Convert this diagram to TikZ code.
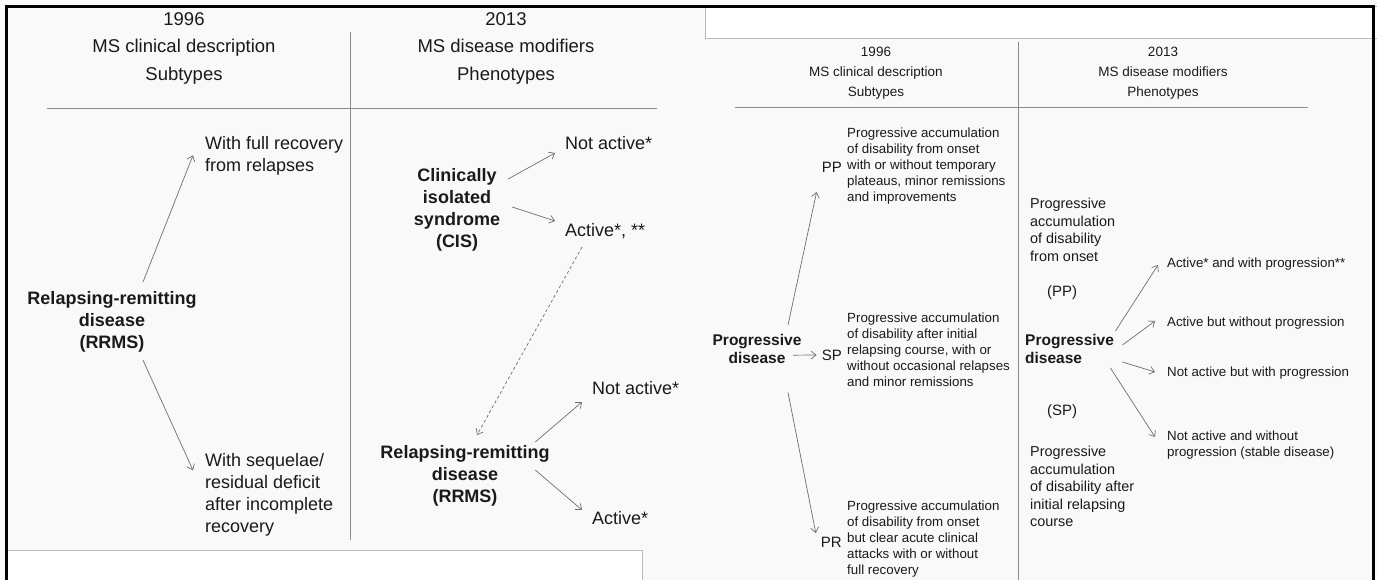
\documentclass[tikz,border=0pt]{standalone}
\usepackage{fontspec}
\setmainfont{Liberation Sans}
\usetikzlibrary{arrows.meta}
\definecolor{ink}{HTML}{1A1A1A}
\definecolor{rulec}{HTML}{8C8C8C}
\definecolor{arrc}{HTML}{6E6E6E}
\definecolor{paper}{HTML}{F9F9F9}
\definecolor{boxc}{HTML}{B8B8B8}
\begin{document}
\begin{tikzpicture}[x=1pt,y=-1pt,
  txt/.style={inner sep=0pt,text=ink},
  hdrL/.style={txt,align=center,anchor=north,font=\fontsize{18.5}{27.5}\selectfont},
  bodyL/.style={txt,align=left,anchor=north west,font=\fontsize{18}{21.7}\selectfont},
  boldL/.style={txt,align=center,anchor=north,font=\bfseries\fontsize{18}{22}\selectfont},
  hdrR/.style={txt,align=center,anchor=north,font=\fontsize{13.5}{20}\selectfont},
  smallR/.style={txt,align=left,anchor=north west,font=\fontsize{13.3}{16}\selectfont},
  boldR/.style={txt,align=center,font=\bfseries\fontsize{15.5}{18}\selectfont},
  colR/.style={txt,align=left,anchor=north west,font=\fontsize{14.4}{17.4}\selectfont},
  tagR/.style={txt,font=\fontsize{15}{18}\selectfont},
  rulel/.style={draw=rulec,line width=0.8pt},
  arr/.style={draw=arrc,line width=0.7pt,-{Straight Barb[length=5pt,width=8pt]}},
  dasharr/.style={arr,dash pattern=on 3pt off 2.5pt},
  whitebox/.style={fill=white,draw=boxc,line width=0.8pt},
  frameline/.style={draw=black,line width=3pt}
]
\useasboundingbox (0,0) rectangle (1377,580);
\fill[paper] (0,0) rectangle (1377,580);

% white panels of the two slides
\draw[whitebox] (6,550) rectangle (642,590);
\draw[whitebox] (705,6) rectangle (1380,38);

% ---------------- left slide: relapsing forms ----------------
\node[hdrL] (hL96) at (184,12) {1996\\MS clinical description\\Subtypes};
\node[hdrL] (hL13) at (506,12) {2013\\MS disease modifiers\\Phenotypes};
\draw[rulel] (47,108) -- (657,108);
\draw[rulel] (350,32) -- (350,540);

\node[boldL] (rrA) at (112,291) {Relapsing-remitting\\disease\\(RRMS)};
\node[bodyL] (full) at (205,136.3) {With full recovery\\from relapses};
\node[bodyL,font=\fontsize{18}{22}\selectfont] (seq) at (205,453.3) {With sequelae/\\residual deficit\\after incomplete\\recovery};
\draw[arr] ([xshift=31pt,yshift=9pt]rrA.north) -- ([xshift=-12pt,yshift=-19pt]full.north west);
\draw[arr] ([xshift=31pt,yshift=-8pt]rrA.south) -- ([xshift=-12pt,yshift=-17pt]seq.north west);

\node[boldL] (cis) at (457,168.3) {Clinically\\isolated\\syndrome\\(CIS)};
\node[bodyL] (naA) at (565,136.3) {Not active*};
\node[bodyL] (actA) at (565,223.3) {Active*, **};
\draw[arr] ([xshift=8pt,yshift=-10.7pt]cis.north east) -- ([xshift=-10pt,yshift=-16.7pt]naA.north west);
\draw[arr] ([xshift=12pt,yshift=-38.7pt]cis.north east) -- ([xshift=-10pt,yshift=2.3pt]actA.north west);

\node[boldL] (rrB) at (465,445.3) {Relapsing-remitting\\disease\\(RRMS)};
\node[bodyL] (naB) at (592,381.3) {Not active*};
\node[bodyL] (actB) at (592,511.3) {Active*};
\draw[dasharr] ([xshift=17pt,yshift=-23.7pt]actA.north west) -- ([xshift=12pt,yshift=10.3pt]rrB.north);
\draw[arr] ([xshift=-14.5pt,yshift=3.3pt]rrB.north east) -- ([xshift=-10pt,yshift=-20.7pt]naB.north west);
\draw[arr] ([xshift=-14.5pt,yshift=-24.7pt]rrB.north east) -- ([xshift=-10pt,yshift=1.3pt]actB.north west);

% ---------------- right slide: progressive forms ----------------
\node[hdrR] (hR96) at (876,47) {1996\\MS clinical description\\Subtypes};
\node[hdrR] (hR13) at (1163,47) {2013\\MS disease modifiers\\Phenotypes};
\draw[rulel] (735,107) -- (1308,107);
\draw[rulel] (1018,42) -- (1018,580);

\node[boldR,anchor=north] (pdA) at (757,334.1) {Progressive\\disease};
\node[tagR,anchor=east] (pp) at (842,167) {PP};
\node[tagR,anchor=east] (sp) at (842,355) {SP};
\node[tagR,anchor=east] (pr) at (842,542) {PR};
\node[smallR] (ppd) at (847,127.7) {Progressive accumulation\\of disability from onset\\with or without temporary\\plateaus, minor remissions\\and improvements};
\node[smallR] (spd) at (847,312.7) {Progressive accumulation\\of disability after initial\\relapsing course, with or\\without occasional relapses\\and minor remissions};
\node[smallR] (prd) at (847,500.7) {Progressive accumulation\\of disability from onset\\but clear acute clinical\\attacks with or without\\full recovery};
\draw[arr] ([xshift=31pt,yshift=9.1pt]pdA.north) -- ([xshift=-5pt,yshift=-25pt]pp.west);
\draw[arr] ([xshift=36pt,yshift=-6.2pt]pdA.center) -- ([xshift=-5pt]sp.west);
\draw[arr] ([xshift=31pt,yshift=-28.6pt]pdA.south) -- ([xshift=-5pt,yshift=9pt]pr.west);

\node[colR] (ppR) at (1030,198.2) {Progressive\\accumulation\\of disability\\from onset};
\node[tagR] (ppTag) at (1062,293) {(PP)};
\node[boldR,anchor=north west,align=left] (pdB) at (1025,334.1) {Progressive\\disease};
\node[tagR] (spTag) at (1062,412) {(SP)};
\node[colR] (spR) at (1030,446.2) {Progressive\\accumulation\\of disability after\\initial relapsing\\course};

\node[smallR] (o1) at (1167,257.7) {Active* and with progression**};
\node[smallR] (o2) at (1167,316.7) {Active but without progression};
\node[smallR] (o3) at (1167,366.7) {Not active but with progression};
\node[smallR] (o4) at (1167,430.7) {Not active and without\\progression (stable disease)};
\draw[arr] ([xshift=1.3pt,yshift=3.1pt]pdB.north east) -- ([xshift=-9pt,yshift=-7.3pt]o1.north west);
\draw[arr] ([xshift=8.3pt,yshift=-10.9pt]pdB.north east) -- ([xshift=-12pt,yshift=-4.3pt]o2.north west);
\draw[arr] ([xshift=8.3pt,yshift=-27.9pt]pdB.north east) -- ([xshift=-12pt,yshift=-5.3pt]o3.north west);
\draw[arr] ([xshift=-3.7pt,yshift=-33.9pt]pdB.north east) -- ([xshift=-12pt,yshift=-6.3pt]o4.north west);

% outer frame
\draw[frameline] (6.5,585) -- (6.5,6.5) -- (1373.5,6.5) -- (1373.5,585);
\end{tikzpicture}
\end{document}
